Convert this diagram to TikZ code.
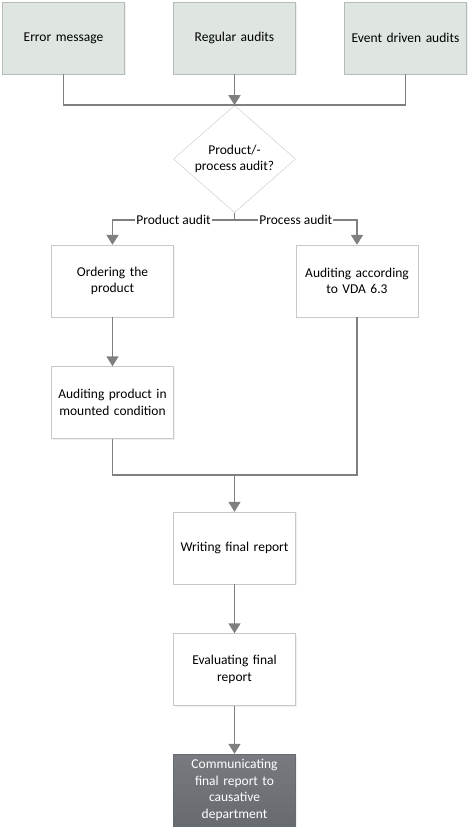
\documentclass[tikz,border=0pt]{standalone}
\usepackage{fontspec}
\setmainfont{Carlito}
\usepackage{xcolor}
\usetikzlibrary{positioning,calc,shapes.geometric,arrows.meta,shadows}

\definecolor{linegray}{HTML}{7F7F7F}
\definecolor{startfill}{HTML}{DFE6E1}
\definecolor{startdraw}{HTML}{B4BCB6}
\definecolor{boxdraw}{HTML}{C8C8C8}
\definecolor{endtop}{HTML}{777B80}
\definecolor{endbot}{HTML}{676B70}

\begin{document}
\begin{tikzpicture}[x=1pt, y=-1pt,
		font=\fontsize{13.5}{16.5}\selectfont,
		flow/.style={draw=linegray, line width=1.8pt},
		arr/.style={flow, -{Triangle[length=10pt, width=12pt]}},
		box/.style={draw=boxdraw, fill=white, minimum width=122pt, minimum height=72pt,
			align=center, text width=116pt, inner sep=2pt,
			drop shadow={shadow xshift=1pt, shadow yshift=-1pt, fill=black!12}},
		startbox/.style={box, draw=startdraw, fill=startfill},
		endbox/.style={box, draw=endbot, top color=endtop, bottom color=endbot, text=white},
		decision/.style={diamond, draw=boxdraw, fill=white, minimum width=122pt,
			minimum height=72pt, inner sep=0pt, align=center},
		lbl/.style={fill=white, inner sep=1pt}]
		\useasboundingbox (0,0) rectangle (474,833);
		% sources
		\node[startbox] (err) at (63.5,38) {Error message};
		\node[startbox] (reg) at (234.5,38) {Regular audits};
		\node[startbox] (evt) at (405.5,38) {Event driven audits};
		\coordinate (join1) at (234.5,105);
		% decision
		\node[decision] (dec) at (234.5,159) {Product/-\\process audit?};
		\coordinate (split) at (234.5,220);
		% branches
		\node[box] (order) at (112.5,281) {Ordering the\\product};
		\node[box] (vda) at (357,281) {Auditing according\\to VDA 6.3};
		\node[box] (mount) at (112.5,402.5) {Auditing product in\\mounted condition};
		\coordinate (join2) at (234.5,475);
		% report
		\node[box] (write) at (234.5,548) {Writing final report};
		\node[box] (eval) at (234.5,669.5) {Evaluating final\\report};
		\node[endbox] (comm) at (234.5,790) {Communicating\\final report to\\causative\\department};
		% connectors
		\draw[flow] (err) |- (join1);
		\draw[flow] (evt) |- (join1);
		\draw[arr] (reg) -- (dec);
		\draw[flow] (dec) -- (split);
		\draw[arr] (split) -| node[lbl, pos=0.25] {Product audit} (order);
		\draw[arr] (split) -| node[lbl, pos=0.25] {Process audit} (vda);
		\draw[arr] (order) -- (mount);
		\draw[flow] (mount) |- (join2);
		\draw[flow] (vda) |- (join2);
		\draw[arr] (join2) -- (write);
		\draw[arr] (write) -- (eval);
		\draw[arr] (eval) -- (comm);
	\end{tikzpicture}
\end{document}
